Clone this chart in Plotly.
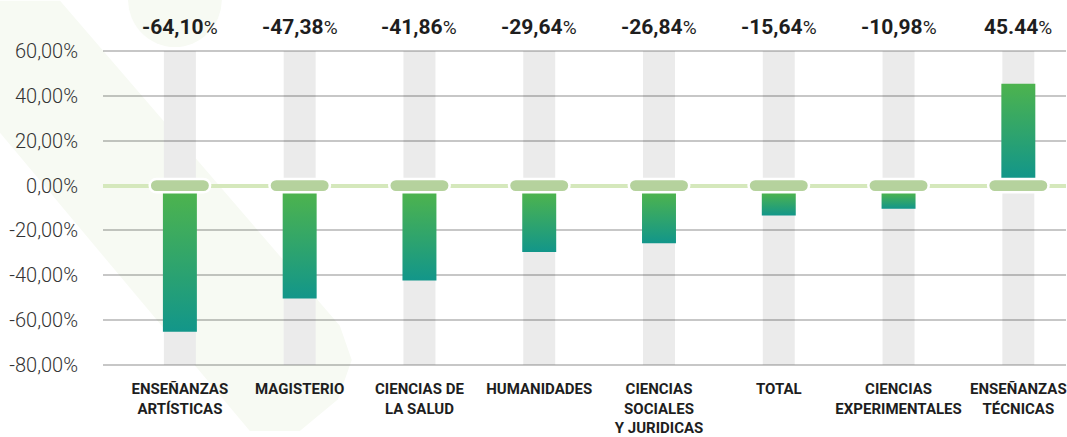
import plotly.graph_objects as go

# ---------------- data ----------------
categories = [
    "ENSEÑANZAS<br>ARTÍSTICAS",
    "MAGISTERIO",
    "CIENCIAS DE<br>LA SALUD",
    "HUMANIDADES",
    "CIENCIAS<br>SOCIALES<br>Y JURIDICAS",
    "TOTAL",
    "CIENCIAS<br>EXPERIMENTALES",
    "ENSEÑANZAS<br>TÉCNICAS",
]
bar_values = [-65.3, -50.4, -42.4, -29.7, -25.7, -13.4, -10.3, 45.5]
value_labels = ["-64,10", "-47,38", "-41,86", "-29,64", "-26,84", "-15,64", "-10,98", "45.44"]
y_ticks = [60, 40, 20, 0, -20, -40, -60, -80]
y_tick_labels = ["60,00%", "40,00%", "20,00%", "0,00%", "-20,00%", "-40,00%", "-60,00%", "-80,00%"]

# ---------------- layout geometry / style ----------------
W, H = 1067, 437
M_L, M_R, M_T, M_B = 103, 0, 49, 65
X_RANGE = [-0.642, 7.398]
Y_RANGE = [-81, 61]
PLOT_W = W - M_L - M_R
PLOT_H = H - M_T - M_B
PX_X = PLOT_W / (X_RANGE[1] - X_RANGE[0])   # px per category unit
PX_Y = PLOT_H / (Y_RANGE[1] - Y_RANGE[0])   # px per % unit

GREEN_TOP = "#4DB34E"
TEAL_BOTTOM = "#12968A"
COL_GRAY = "#EBEBEB"
PILL = "#B5D29D"
ZERO_LINE = "#D5E8BC"
WATERMARK = "#F7FAF3"

BAR_W = 34 / PX_X
COL_W = 32 / PX_X
GAP = 3.3  # bars start just outside the pill

fig = go.Figure()

shapes = []

# faint background watermark (pixel coords -> paper coords)
def px2paper(px, py):
    return (px - M_L) / PLOT_W, (H - M_B - py) / PLOT_H

band = [(-20, 0), (60, 0), (340, 330), (352, 365), (338, 405), (300, 437), (250, 437), (-20, 110)]
pts = [px2paper(a, b) for a, b in band]
path = "M " + " L ".join(f"{x:.4f},{y:.4f}" for x, y in pts) + " Z"
shapes.append(dict(type="path", xref="paper", yref="paper", path=path,
                   fillcolor=WATERMARK, line=dict(width=0), layer="below"))
cx0, cy0 = px2paper(128, 47)
cx1, cy1 = px2paper(222, -50)
shapes.append(dict(type="circle", xref="paper", yref="paper", x0=cx0, y0=cy0, x1=cx1, y1=cy1,
                   fillcolor=WATERMARK, line=dict(width=0), layer="below"))

# gray background columns
for i in range(len(categories)):
    shapes.append(dict(type="rect", xref="x", yref="y",
                       x0=i - COL_W / 2, x1=i + COL_W / 2, y0=y_ticks[-1], y1=y_ticks[0],
                       fillcolor=COL_GRAY, line=dict(width=0), layer="below"))

# gradient bars
for i, v in enumerate(bar_values):
    base = GAP if v > 0 else -GAP
    xs = [i - BAR_W / 2, i + BAR_W / 2, i + BAR_W / 2, i - BAR_W / 2, i - BAR_W / 2]
    ys = [base, base, v, v, base]
    fig.add_trace(go.Scatter(
        x=xs, y=ys, mode="lines", fill="toself", line=dict(width=0),
        fillgradient=dict(type="vertical",
                          colorscale=[[0, TEAL_BOTTOM], [1, GREEN_TOP]]),
        hoverinfo="skip", showlegend=False,
    ))

# pills on the zero line (rounded rectangles)
def pill_path(cx, half_w_px=30.25, half_h_px=6.75):
    r = half_h_px
    k = 0.5523
    def P(dx, dy):
        return f"{cx + dx / PX_X:.5f},{dy / PX_Y:.5f}"
    xl, xr = -half_w_px + r, half_w_px - r
    h = half_h_px
    d = (f"M {P(xl, h)} L {P(xr, h)} "
         f"C {P(xr + k * r, h)} {P(xr + r, k * h)} {P(xr + r, 0)} "
         f"C {P(xr + r, -k * h)} {P(xr + k * r, -h)} {P(xr, -h)} "
         f"L {P(xl, -h)} "
         f"C {P(xl - k * r, -h)} {P(xl - r, -k * h)} {P(xl - r, 0)} "
         f"C {P(xl - r, k * h)} {P(xl - k * r, h)} {P(xl, h)} Z")
    return d

for i in range(len(categories)):
    shapes.append(dict(type="path", xref="x", yref="y", path=pill_path(i),
                       fillcolor=PILL, line=dict(color="white", width=2.5), layer="above"))

# value labels on top
annotations = []
for i, lab in enumerate(value_labels):
    annotations.append(dict(
        x=i, y=1, xref="x", yref="paper", yanchor="middle", yshift=22,
        text=f"<b>{lab}</b><span style='font-size:19px'>%</span>",
        showarrow=False, font=dict(family="Roboto", size=21, color="#1E1E1E"),
    ))

fig.update_layout(
    width=W, height=H,
    margin=dict(l=M_L, r=M_R, t=M_T, b=M_B),
    paper_bgcolor="white", plot_bgcolor="rgba(0,0,0,0)",
    shapes=shapes, annotations=annotations,
    showlegend=False,
    xaxis=dict(
        range=X_RANGE, tickmode="array", tickvals=list(range(len(categories))),
        ticktext=[f"<b>{c}</b>" for c in categories],
        showgrid=False, zeroline=False, showline=False,
        ticks="outside", ticklen=8, tickcolor="rgba(0,0,0,0)",
        tickfont=dict(family="Roboto", size=15, color="#1E1E1E"),
        ticklabeloverflow="allow",
        fixedrange=True,
    ),
    yaxis=dict(
        range=Y_RANGE, tickmode="array", tickvals=y_ticks, ticktext=y_tick_labels,
        showgrid=True, gridcolor="rgba(0,0,0,0.22)", gridwidth=2,
        zeroline=True, zerolinecolor=ZERO_LINE, zerolinewidth=4,
        showline=False, ticks="outside", ticklen=20, tickcolor="rgba(0,0,0,0)",
        tickfont=dict(family="Roboto", size=20, color="#333333", weight=300),
        fixedrange=True,
    ),
)

fig.write_html("out.html", config={"displayModeBar": False},
               post_script="document.body.style.margin='0';")
